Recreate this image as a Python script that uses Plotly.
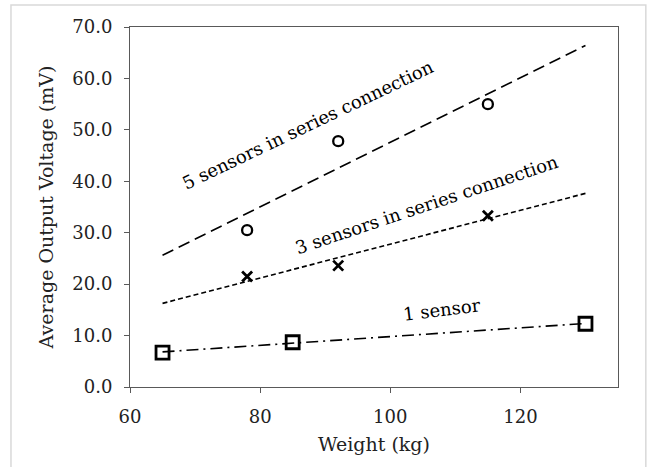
import numpy as np
import plotly.graph_objects as go

# Data
x_1sensor = [65, 85, 130]
y_1sensor = [6.7, 8.7, 12.3]
x_3sensors = [78, 92, 115]
y_3sensors = [21.5, 23.6, 33.3]
x_5sensors = [78, 92, 115]
y_5sensors = [30.5, 47.8, 55.0]
trend_x = [65, 130]

labels = ["1 sensor", "3 sensors in series connection", "5 sensors in series connection"]
y_ticks = [0, 10, 20, 30, 40, 50, 60, 70]
x_ticks = [60, 80, 100, 120]
x_range = [60, 135]
y_range = [0, 70]

FONT = "DejaVu Serif"

fig = go.Figure()

def trend(xs, ys):
    m, b = np.polyfit(xs, ys, 1)
    tx = np.array(trend_x, dtype=float)
    return tx, m * tx + b

series = [
    (x_1sensor, y_1sensor, "square-open", 13, "12px,5px,2px,5px", 2.8),
    (x_3sensors, y_3sensors, "x-thin-open", 10, "5px,3px", 2.8),
    (x_5sensors, y_5sensors, "circle-open", 10, "12px,6px", 2.3),
]

for xs, ys, sym, size, dash, mlw in series:
    tx, ty = trend(xs, ys)
    fig.add_trace(go.Scatter(x=tx, y=ty, mode="lines",
                             line=dict(color="black", width=1.6, dash=dash),
                             hoverinfo="skip", showlegend=False))
for xs, ys, sym, size, dash, mlw in series:
    fig.add_trace(go.Scatter(x=xs, y=ys, mode="markers",
                             marker=dict(symbol=sym, size=size, color="black",
                                         line=dict(color="black", width=mlw)),
                             showlegend=False))

# invisible carrier trace so the label axes are drawn
fig.add_trace(go.Scatter(x=x_1sensor, y=y_1sensor, mode="markers", xaxis="x2", yaxis="y2",
                         marker=dict(opacity=0), hoverinfo="skip", showlegend=False))

# Text labels along lines
ann = [
    (108, 15.0, labels[0], -7),
    (105.6, 35.4, labels[1], -18.5),
    (87.4, 51.0, labels[2], -25.5),
]
for x, y, t, ang in ann:
    fig.add_annotation(x=x, y=y, text=t, showarrow=False, textangle=ang,
                       font=dict(family=FONT, size=18, color="black"))

# outer light border
fig.add_shape(type="rect", xref="paper", yref="paper",
              x0=-0.2439, x1=1.057, y0=-0.24, y1=1.061,
              line=dict(color="#d9d9d9", width=1.5), layer="below")

main_axis = dict(showgrid=False, zeroline=False, showline=True, mirror=True,
                 linecolor="#595959", linewidth=1.2, ticks="outside",
                 ticklen=5, tickwidth=1.2, tickcolor="#595959",
                 showticklabels=False)
label_axis = dict(showgrid=False, zeroline=False, showline=False,
                  ticks="outside", ticklen=13, tickcolor="rgba(0,0,0,0)",
                  tickfont=dict(family=FONT, size=18, color="#222"))

fig.update_layout(
    width=651, height=467,
    margin=dict(l=130, r=33, t=27, b=80),
    paper_bgcolor="white", plot_bgcolor="white",
    xaxis=dict(range=x_range, tickvals=x_ticks, **main_axis),
    yaxis=dict(range=y_range, tickvals=y_ticks, **main_axis),
    xaxis2=dict(range=x_range, tickvals=x_ticks, overlaying="x", anchor="y2",
                side="bottom",
                title=dict(text="Weight (kg)", font=dict(family=FONT, size=19, color="#222"),
                           standoff=12),
                **label_axis),
    yaxis2=dict(range=y_range, tickvals=y_ticks, tickformat=".1f", overlaying="y",
                anchor="x2", side="left",
                title=dict(text="Average Output Voltage (mV)",
                           font=dict(family=FONT, size=19, color="#222"), standoff=13),
                **label_axis),
)

fig.write_html("out.html", config={"displayModeBar": False},
               post_script="document.body.style.margin='0';")
